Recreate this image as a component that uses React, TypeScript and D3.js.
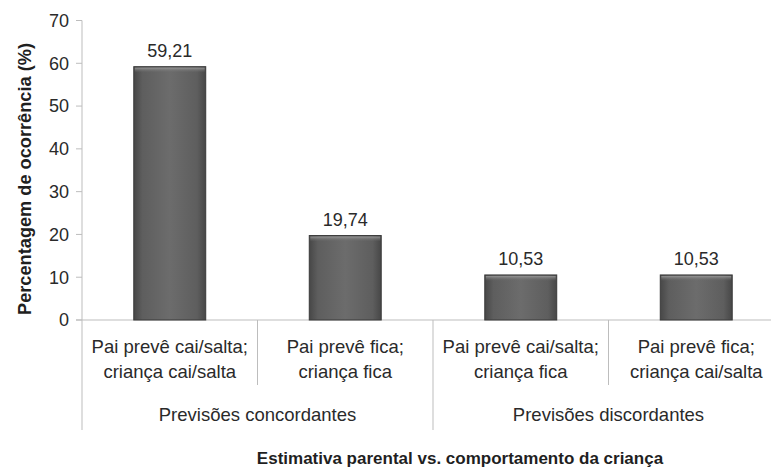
import * as d3 from 'd3';
import React, {useRef, useEffect} from 'react';

const categoriesLine1 = ["Pai prevê cai/salta;", "Pai prevê fica;", "Pai prevê cai/salta;", "Pai prevê fica;"];
const categoriesLine2 = ["criança cai/salta", "criança fica", "criança fica", "criança cai/salta"];
const values = [59.21, 19.74, 10.53, 10.53];
const valueLabels = ["59,21", "19,74", "10,53", "10,53"];
const groups = ["Previsões concordantes", "Previsões discordantes"];
const yTicks = [0, 10, 20, 30, 40, 50, 60, 70];

const W = 771;
const H = 470;
const FONT = "'Liberation Sans', Arial, sans-serif";
const TEXT = "#2a2a2a";

const Chart = () => {
  const ref = useRef<SVGSVGElement>(null);

  useEffect(() => {
    const svg = d3.select(ref.current);
    svg.selectAll("*").remove();

    const left = 82, right = 784, top = 20.5, bottom = 320;

    const x = d3.scaleBand<number>()
      .domain(d3.range(values.length))
      .range([left, right]);
    const y = d3.scaleLinear().domain([0, 70]).range([bottom, top]);
    const barW = x.bandwidth() * 0.41;

    // gradient for the bars
    const defs = svg.append("defs");
    const grad = defs.append("linearGradient").attr("id", "barGrad")
      .attr("x1", "0").attr("x2", "1").attr("y1", "0").attr("y2", "0");
    [["0%", "#474747"], ["12%", "#5e5e5e"], ["50%", "#6c6c6c"], ["88%", "#5e5e5e"], ["100%", "#474747"]]
      .forEach(([o, c]) => grad.append("stop").attr("offset", o).attr("stop-color", c));
    const topGrad = defs.append("linearGradient").attr("id", "topGrad")
      .attr("x1", "0").attr("x2", "0").attr("y1", "0").attr("y2", "1");
    topGrad.append("stop").attr("offset", "0%").attr("stop-color", "#9a9a9a").attr("stop-opacity", 0.9);
    topGrad.append("stop").attr("offset", "100%").attr("stop-color", "#6c6c6c").attr("stop-opacity", 0);

    const axisColor = "#bdbdbd";

    // y axis
    svg.append("line")
      .attr("x1", left).attr("x2", left).attr("y1", top).attr("y2", 430)
      .attr("stroke", axisColor);
    svg.selectAll(".ytick")
      .data(yTicks)
      .enter()
      .append("line")
      .attr("x1", left - 6).attr("x2", left)
      .attr("y1", d => y(d)).attr("y2", d => y(d))
      .attr("stroke", axisColor);
    svg.selectAll(".ylab")
      .data(yTicks)
      .enter()
      .append("text")
      .attr("x", left - 13)
      .attr("y", d => y(d))
      .attr("dy", "0.35em")
      .attr("text-anchor", "end")
      .attr("font-family", FONT)
      .attr("font-size", 18)
      .attr("fill", TEXT)
      .text(d => d);

    // x axis
    svg.append("line")
      .attr("x1", left - 6).attr("x2", right).attr("y1", bottom).attr("y2", bottom)
      .attr("stroke", axisColor);

    // separators under the axis
    values.forEach((_, i) => {
      const xr = (x(i) as number) + x.bandwidth();
      svg.append("line")
        .attr("x1", xr).attr("x2", xr)
        .attr("y1", bottom).attr("y2", i % 2 === 1 ? 430 : 385)
        .attr("stroke", axisColor);
    });

    // bars
    const bars = svg.selectAll(".bar").data(values).enter().append("g");
    bars.append("rect")
      .attr("x", (_, i) => (x(i) as number) + (x.bandwidth() - barW) / 2)
      .attr("y", d => y(d))
      .attr("width", barW)
      .attr("height", d => bottom - y(d))
      .attr("fill", "url(#barGrad)")
      .attr("stroke", "#3a3a3a")
      .attr("stroke-width", 1);
    bars.append("rect")
      .attr("x", (_, i) => (x(i) as number) + (x.bandwidth() - barW) / 2 + 1)
      .attr("y", d => y(d) + 1)
      .attr("width", barW - 2)
      .attr("height", 5)
      .attr("fill", "url(#topGrad)");

    // value labels
    svg.selectAll(".val")
      .data(values)
      .enter()
      .append("text")
      .attr("x", (_, i) => (x(i) as number) + x.bandwidth() / 2)
      .attr("y", d => y(d) - 10)
      .attr("text-anchor", "middle")
      .attr("font-family", FONT)
      .attr("font-size", 18)
      .attr("fill", TEXT)
      .text((_, i) => valueLabels[i]);

    // category labels
    [categoriesLine1, categoriesLine2].forEach((lines, k) => {
      svg.selectAll(".cat" + k)
        .data(lines)
        .enter()
        .append("text")
        .attr("x", (_, i) => (x(i) as number) + x.bandwidth() / 2)
        .attr("y", 353 + k * 25)
        .attr("text-anchor", "middle")
        .attr("font-family", FONT)
        .attr("font-size", 18.5)
        .attr("fill", TEXT)
        .text(d => d);
    });

    // group labels
    svg.selectAll(".grp")
      .data(groups)
      .enter()
      .append("text")
      .attr("x", (_, g) => (x(g * 2) as number) + x.bandwidth())
      .attr("y", 421)
      .attr("text-anchor", "middle")
      .attr("font-family", FONT)
      .attr("font-size", 18.5)
      .attr("fill", TEXT)
      .text(d => d);

    // axis titles
    svg.append("text")
      .attr("x", 460)
      .attr("y", 464)
      .attr("text-anchor", "middle")
      .attr("font-family", FONT)
      .attr("font-size", 17)
      .attr("font-weight", "bold")
      .attr("fill", "#1f1f1f")
      .text("Estimativa parental vs. comportamento da criança");

    svg.append("text")
      .attr("transform", "translate(31,179) rotate(-90)")
      .attr("text-anchor", "middle")
      .attr("font-family", FONT)
      .attr("font-size", 18.2)
      .attr("font-weight", "bold")
      .attr("fill", "#1f1f1f")
      .text("Percentagem de ocorrência (%)");
  }, []);

  return <svg ref={ref} width={W} height={H} style={{display: "block", background: "#fff"}} />;
};

export default function App() {
  return (
    <div style={{position: "absolute", left: 0, top: 0, width: W, height: H, overflow: "hidden", background: "#fff"}}>
      <Chart />
    </div>
  );
}
